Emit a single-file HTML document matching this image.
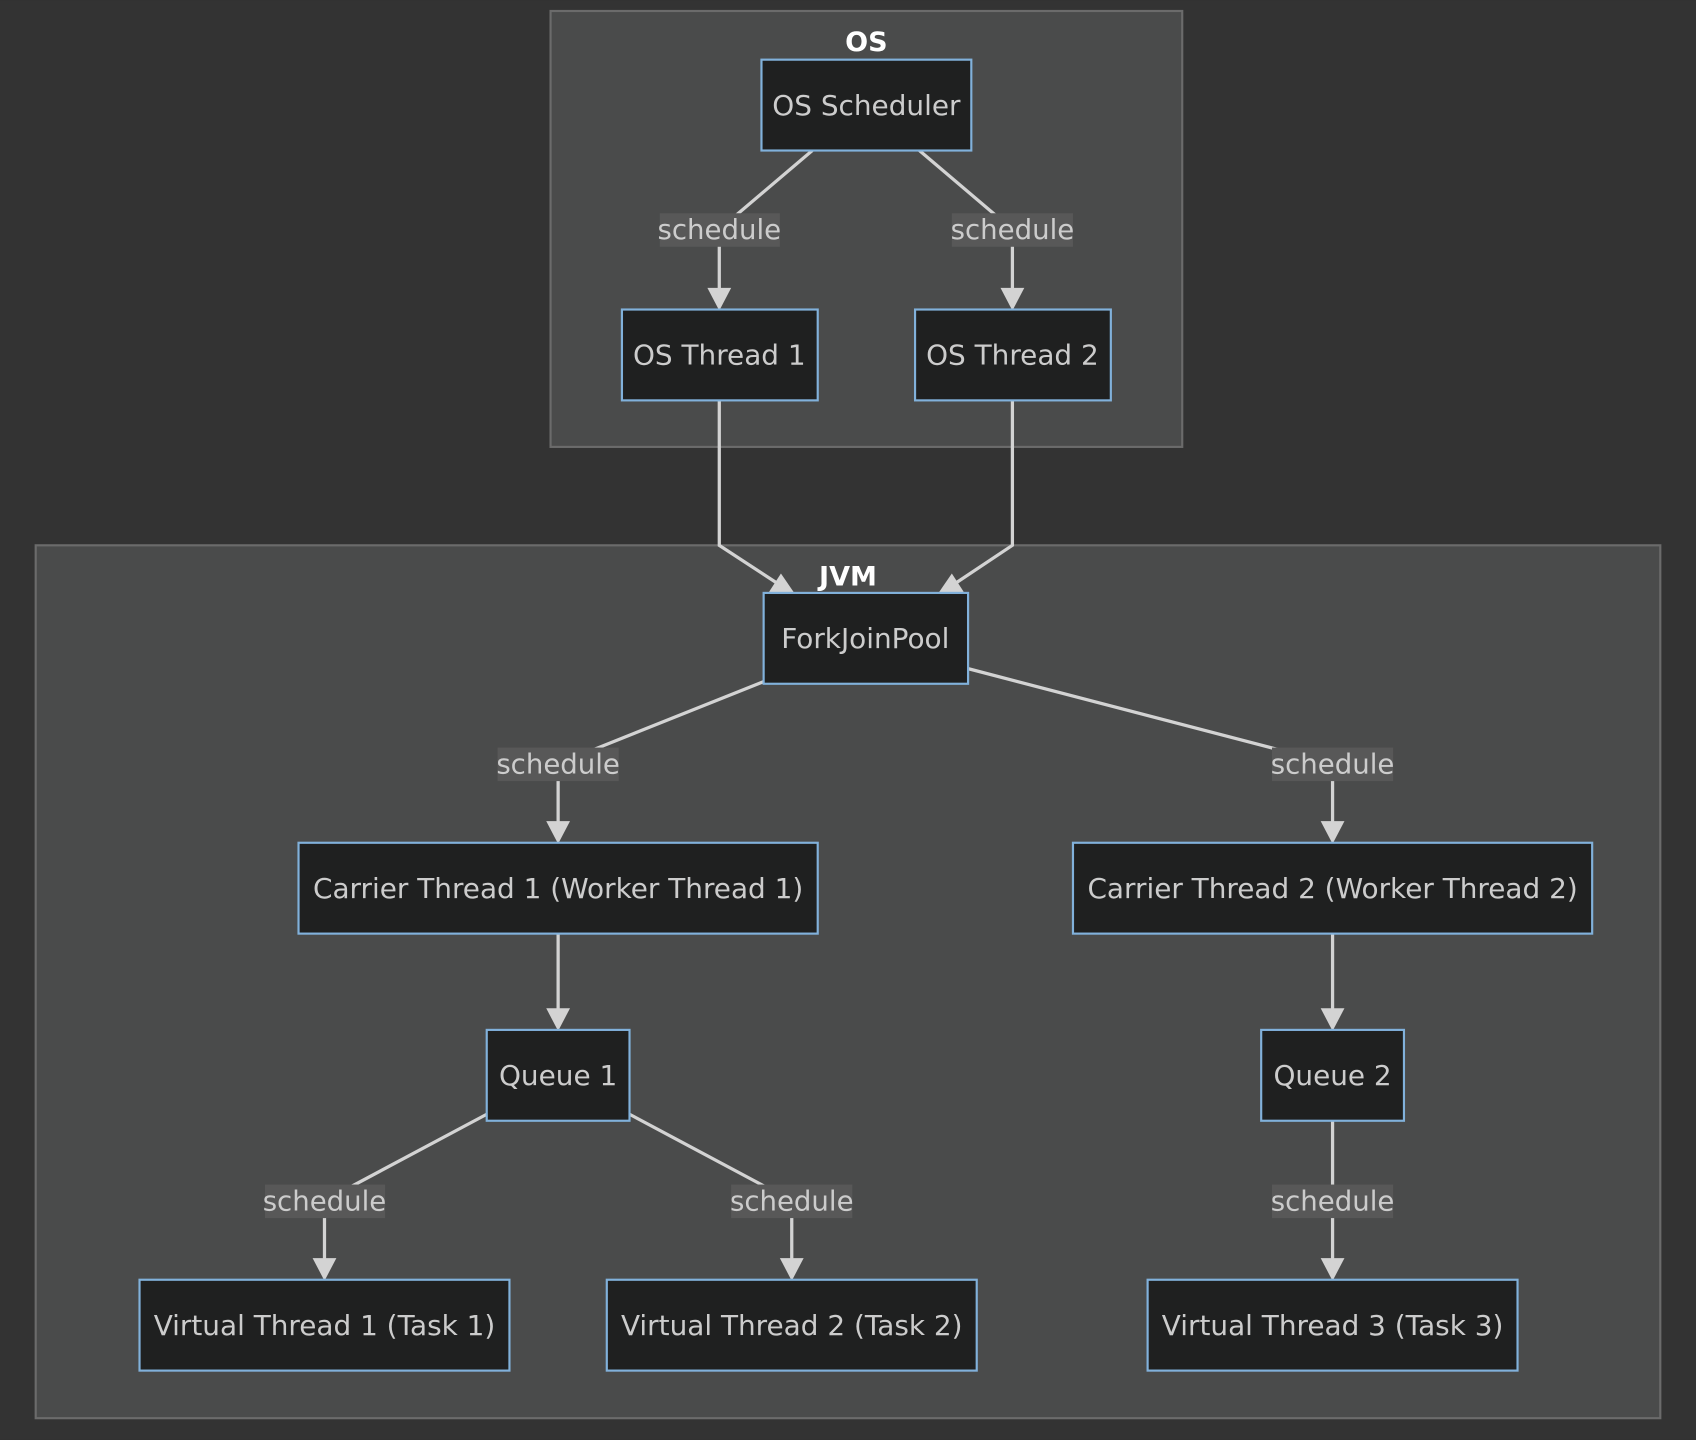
<!DOCTYPE html>
<html><head><meta charset="utf-8"><style>
html,body{margin:0;padding:0;background:#333333;}
svg{display:block;}
text{font-family:"DejaVu Sans","Liberation Sans",sans-serif;}
</style></head><body>
<svg width="1696" height="1440" viewBox="0 0 1568 1331" xmlns="http://www.w3.org/2000/svg">
<rect width="1568" height="1331" fill="#333333"/>
<rect x="509" y="10" width="584" height="403" fill="#4a4b4b" stroke="#6b6b6b" stroke-width="2"/>
<rect x="33" y="504" width="1502" height="807" fill="#4a4b4b" stroke="#6b6b6b" stroke-width="2"/>
<text x="801" y="47" font-size="25" font-weight="bold" fill="#ffffff" text-anchor="middle">OS</text>
<text x="784" y="541" font-size="25" font-weight="bold" fill="#ffffff" text-anchor="middle">JVM</text>

<g fill="none" stroke="#d3d3d3" stroke-width="3">
<path d="M751,139 L665,212 L665,268"/>
<path d="M850,139 L936,212 L936,268"/>
<path d="M665,370 L665,504 L720,540"/>
<path d="M936,370 L936,504 L882,540"/>
<path d="M706,630 L516,706 L516,761"/>
<path d="M895,618 L1232,706 L1232,761"/>
<path d="M516,863 L516,934"/>
<path d="M1232,863 L1232,934"/>
<path d="M450,1030 L300,1110 L300,1165"/>
<path d="M582,1030 L732,1110 L732,1165"/>
<path d="M1232,1036 L1232,1165"/>
</g>
<g fill="#d3d3d3">
<polygon points="654,266 676,266 665,287"/>
<polygon points="925,266 947,266 936,287"/>
<polygon points="505,759 527,759 516,780"/>
<polygon points="1221,759 1243,759 1232,780"/>
<polygon points="505,932 527,932 516,953"/>
<polygon points="1221,932 1243,932 1232,953"/>
<polygon points="289,1163 311,1163 300,1184"/>
<polygon points="721,1163 743,1163 732,1184"/>
<polygon points="1221,1163 1243,1163 1232,1184"/>
<polygon points="711,547 735,549 722,530"/>
<polygon points="891,547 867,549 880,530"/>
</g>
<g font-size="25.5" fill="#cccccc" text-anchor="middle">
<rect x="610" y="197" width="111" height="31" fill="#585858"/><text x="665" y="221">schedule</text>
<rect x="880" y="197" width="112" height="31" fill="#585858"/><text x="936" y="221">schedule</text>
<rect x="460" y="691" width="112" height="31" fill="#585858"/><text x="516" y="715">schedule</text>
<rect x="1176" y="691" width="112" height="31" fill="#585858"/><text x="1232" y="715">schedule</text>
<rect x="245" y="1095" width="111" height="31" fill="#585858"/><text x="300" y="1119">schedule</text>
<rect x="676" y="1095" width="112" height="31" fill="#585858"/><text x="732" y="1119">schedule</text>
<rect x="1176" y="1095" width="112" height="31" fill="#585858"/><text x="1232" y="1119">schedule</text>
</g>
<g fill="#1f2020" stroke="#81b1db" stroke-width="2">
<rect x="704" y="55" width="194" height="84"/>
<rect x="575" y="286" width="181" height="84"/>
<rect x="846" y="286" width="181" height="84"/>
<rect x="706" y="548" width="189" height="84"/>
<rect x="276" y="779" width="480" height="84"/>
<rect x="992" y="779" width="480" height="84"/>
<rect x="450" y="952" width="132" height="84"/>
<rect x="1166" y="952" width="132" height="84"/>
<rect x="129" y="1183" width="342" height="84"/>
<rect x="561" y="1183" width="342" height="84"/>
<rect x="1061" y="1183" width="342" height="84"/>
</g>
<g font-size="25.8" fill="#cccccc" text-anchor="middle">
<text x="801" y="106">OS Scheduler</text>
<text x="665" y="337">OS Thread 1</text>
<text x="936" y="337">OS Thread 2</text>
<text x="800" y="599">ForkJoinPool</text>
<text x="516" y="830">Carrier Thread 1 (Worker Thread 1)</text>
<text x="1232" y="830">Carrier Thread 2 (Worker Thread 2)</text>
<text x="516" y="1003">Queue 1</text>
<text x="1232" y="1003">Queue 2</text>
<text x="300" y="1234">Virtual Thread 1 (Task 1)</text>
<text x="732" y="1234">Virtual Thread 2 (Task 2)</text>
<text x="1232" y="1234">Virtual Thread 3 (Task 3)</text>
</g>
</svg>
</body></html>
